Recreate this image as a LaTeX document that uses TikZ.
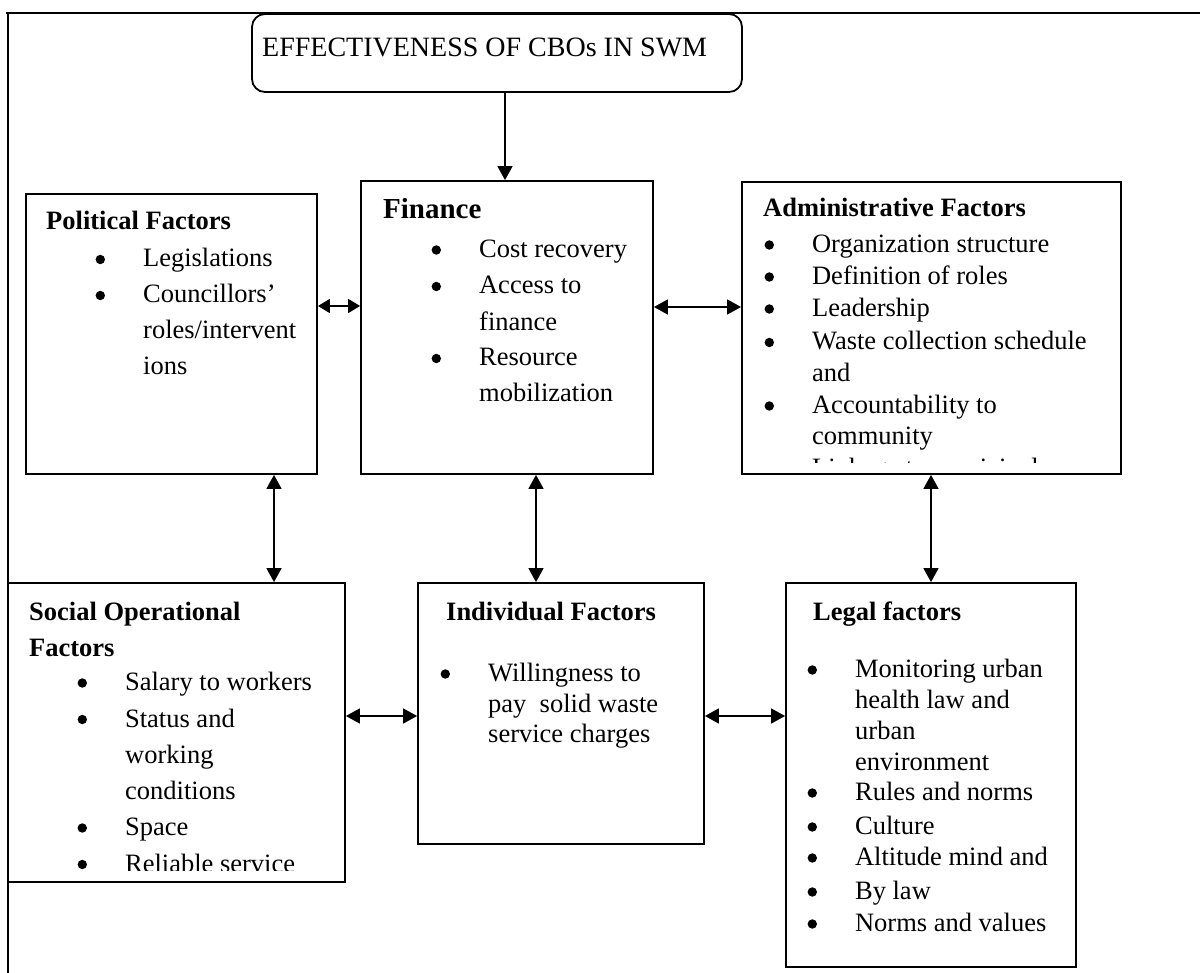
\documentclass[tikz,border=0pt]{standalone}
\usepackage{fontspec}
\setmainfont{Liberation Serif}
\usetikzlibrary{arrows.meta}
\newcommand\fs{\fontsize{26.5pt}{32pt}\selectfont}
\newcommand\fsb{\fontsize{29pt}{34pt}\selectfont\bfseries}
\newcommand\fst{\fontsize{28pt}{32pt}\selectfont}
\newcommand\bul{\makebox[47.5pt][l]{\raisebox{2.8pt}{\tikz\fill (0pt,0pt) circle (4.7pt);}}}
\tikzset{
  box/.style={draw, line width=1.8pt, inner sep=0pt},
  txt/.style={anchor=base west, inner sep=0pt, font=\fs},
  hd/.style={anchor=base west, inner sep=0pt, font=\fs\bfseries},
  arr/.style={line width=1.6pt, -{Triangle[length=14pt,width=15pt]}},
  darr/.style={line width=1.6pt, {Triangle[length=14pt,width=15pt]}-{Triangle[length=14pt,width=15pt]}},
  sdarr/.style={line width=1.6pt, {Triangle[length=12pt,width=14pt]}-{Triangle[length=12pt,width=14pt]}},
}
\begin{document}
\begin{tikzpicture}[x=1pt,y=-1pt]
\useasboundingbox (0,0) rectangle (1200,973);
% outer frame lines
\draw[line width=2.2pt] (6,13) -- (1200,13);
\draw[line width=2pt] (8,13) -- (8,973);

% boxes
\node[box, rounded corners=13pt, fill=white, minimum width=490pt, minimum height=78pt] (ttl) at (497,53) {};
\node[box, minimum width=291pt, minimum height=280pt] (pol) at (171.5,334) {};
\node[box, minimum width=292pt, minimum height=293pt] (fin) at (507,327.5) {};
\node[box, minimum width=379pt, minimum height=292pt] (adm) at (931.5,328) {};
\node[box, minimum width=337pt, minimum height=299pt] (soc) at (176.5,732.5) {};
\node[box, minimum width=286pt, minimum height=261pt] (ind) at (561,713.5) {};
\node[box, minimum width=290pt, minimum height=384pt] (leg) at (931,775) {};

% title
\node[anchor=base west, inner sep=0pt, font=\fst] (ttlt) at (262,57) {EFFECTIVENESS OF CBOs IN SWM};

% Political
\node[hd] (p0) at (46,230) {Political Factors};
\node[txt] (p1) at (95.4,267) {\bul Legislations};
\node[txt] (p2) at (95.4,303) {\bul Councillors’};
\node[txt] (p3) at (143,339) {roles/intervent};
\node[txt] (p4) at (143,375) {ions};

% Finance
\node[anchor=base west, inner sep=0pt, font=\fsb] (f0) at (383,219) {Finance};
\node[txt] (f1) at (431.4,257.5) {\bul Cost recovery};
\node[txt] (f2) at (431.4,294) {\bul Access to};
\node[txt] (f3) at (479,330.5) {finance};
\node[txt] (f4) at (431.4,366) {\bul Resource};
\node[txt] (f5) at (479,402) {mobilization};

% Administrative
\node[hd] (a0) at (763,216.5) {Administrative Factors};
\begin{scope}
\clip (742,182) rectangle (1121,463);
\node[txt] (a1) at (764.4,252.5) {\bul Organization structure};
\node[txt] (a2) at (764.4,284.5) {\bul Definition of roles};
\node[txt] (a3) at (764.4,316.5) {\bul Leadership};
\node[txt] (a4) at (764.4,350) {\bul Waste collection schedule};
\node[txt] (a5) at (812,381.5) {and};
\node[txt] (a6) at (764.4,413.5) {\bul Accountability to};
\node[txt] (a7) at (812,445) {community};
\node[txt] (a8) at (764.4,477) {\bul Linkage to municipal};
\end{scope}

% Social
\node[hd] (s0) at (29,620) {Social Operational};
\node[hd] (s0b) at (29,656) {Factors};
\begin{scope}
\clip (8,583) rectangle (345,870);
\node[txt] (s1) at (77.4,690.5) {\bul Salary to workers};
\node[txt] (s2) at (77.4,727) {\bul Status and};
\node[txt] (s3) at (125,763) {working};
\node[txt] (s4) at (125,799) {conditions};
\node[txt] (s5) at (77.4,835.5) {\bul Space};
\node[txt] (s6) at (77.4,872) {\bul Reliable service};
\end{scope}

% Individual
\node[hd] (i0) at (446,620) {Individual Factors};
\node[txt] (i1) at (440.4,681.5) {\bul Willingness to};
\node[txt] (i2) at (488,712) {pay \ solid waste};
\node[txt] (i3) at (488,742.5) {service charges};

% Legal
\node[hd] (l0) at (813,620) {Legal factors};
\node[txt] (l1) at (807.4,677.5) {\bul Monitoring urban};
\node[txt] (l2) at (855,708) {health law and};
\node[txt] (l3) at (855,739) {urban};
\node[txt] (l4) at (855,770) {environment};
\node[txt] (l5) at (807.4,800.5) {\bul Rules and norms};
\node[txt] (l6) at (807.4,834.5) {\bul Culture};
\node[txt] (l7) at (807.4,865.5) {\bul Altitude mind and};
\node[txt] (l8) at (807.4,899.5) {\bul By law};
\node[txt] (l9) at (807.4,931.5) {\bul Norms and values};

% connector guide coordinates
\coordinate (v0) at (505,0);
\coordinate (v1) at (274,0);
\coordinate (v2) at (536,0);
\coordinate (v3) at (931,0);
\coordinate (h1) at (0,306);
\coordinate (h2) at (0,307);
\coordinate (h3) at (0,716);

% connectors
\draw[arr] (ttl.south -| v0) -- (fin.north -| v0);
\draw[sdarr] (pol.east |- h1) -- (fin.west |- h1);
\draw[darr] (fin.east |- h2) -- (adm.west |- h2);
\draw[darr] (pol.south -| v1) -- (soc.north -| v1);
\draw[darr] (fin.south -| v2) -- (ind.north -| v2);
\draw[darr] (adm.south -| v3) -- (leg.north -| v3);
\draw[darr] (soc.east |- h3) -- (ind.west |- h3);
\draw[darr] (ind.east |- h3) -- (leg.west |- h3);
\end{tikzpicture}
\end{document}
